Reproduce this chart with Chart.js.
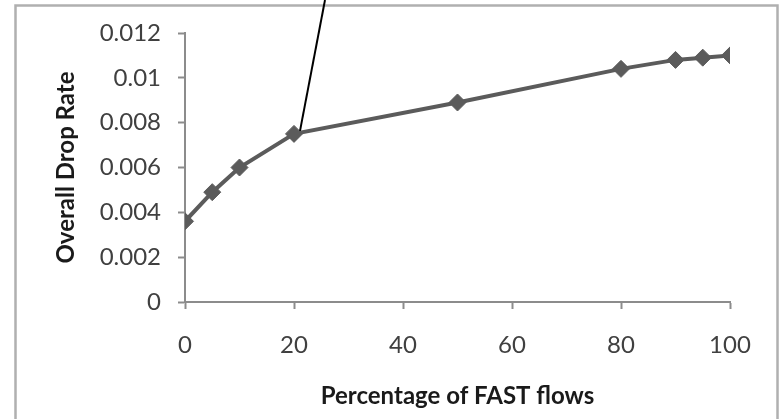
<!DOCTYPE html>
<html>
<head>
<meta charset="utf-8">
<title>Overall Drop Rate</title>
<script src="https://cdn.jsdelivr.net/npm/chart.js@4/dist/chart.umd.min.js"></script>
<style>
  html, body { margin: 0; padding: 0; background: #fff; }
  #wrap { position: relative; width: 781px; height: 419px; }
</style>
</head>
<body>
<div id="wrap"><canvas id="dropChart" width="781" height="419"></canvas></div>
<script>
// percentage of FAST flows vs. overall drop rate
var fastPercent = [0, 5, 10, 20, 50, 80, 90, 95, 100];
var dropRate = [0.0036, 0.0049, 0.0060, 0.0075, 0.0089, 0.0104, 0.0108, 0.0109, 0.0110];
var xTicks = [0, 20, 40, 60, 80, 100];
var yTicks = [0, 0.002, 0.004, 0.006, 0.008, 0.01, 0.012];

var axisGray = '#8c8c8c';
var seriesGray = '#5b5b5b';
var fontFamily = 'Lato, "Open Sans", sans-serif';

var points = [];
for (var i = 0; i < fastPercent.length; i++) {
    points.push({x: fastPercent[i], y: dropRate[i]});
}

// outer chart frame, drawn before anything else
var framePlugin = {
    id: 'frame',
    beforeDraw: function(chart) {
        var ctx = chart.ctx;
        ctx.save();
        ctx.strokeStyle = '#b0b0b0';
        ctx.lineWidth = 2.5;
        ctx.strokeRect(15.5, 5.5, 762, 500);
        ctx.restore();
    }
};

// callout line leaving the 20% point towards the top edge
var calloutPlugin = {
    id: 'callout',
    afterDraw: function(chart) {
        var xs = chart.scales.x, ys = chart.scales.y;
        var px = xs.getPixelForValue(20), py = ys.getPixelForValue(dropRate[3]);
        var ctx = chart.ctx;
        ctx.save();
        ctx.strokeStyle = '#000';
        ctx.lineWidth = 2;
        ctx.beginPath();
        ctx.moveTo(px + 6, py - 3);
        ctx.lineTo(px + 31, 0);
        ctx.stroke();
        ctx.restore();
    }
};

new Chart(document.getElementById('dropChart'), {
    type: 'line',
    data: {
        datasets: [{
            data: points,
            borderColor: seriesGray,
            borderWidth: 4,
            backgroundColor: seriesGray,
            pointStyle: 'rectRot',
            pointRadius: 8.5,
            pointBorderWidth: 1,
            pointBorderColor: seriesGray,
            pointBackgroundColor: seriesGray,
            tension: 0,
            fill: false
        }]
    },
    options: {
        responsive: false,
        animation: false,
        events: [],
        layout: { padding: { top: 33, right: 51, left: 0, bottom: 0 } },
        plugins: { legend: { display: false }, tooltip: { enabled: false } },
        scales: {
            x: {
                type: 'linear',
                min: 0,
                max: 100,
                afterBuildTicks: function(scale) {
                    scale.ticks = xTicks.map(function(v) { return {value: v}; });
                },
                afterFit: function(scale) { scale.height = 117; },
                grid: { drawOnChartArea: false, drawTicks: true, tickLength: 7, tickColor: axisGray, tickWidth: 2 },
                border: { display: true, color: axisGray, width: 2 },
                ticks: {
                    color: '#404040',
                    padding: 22,
                    maxRotation: 0,
                    font: { family: fontFamily, size: 24 }
                },
                title: {
                    display: true,
                    text: 'Percentage of FAST flows',
                    color: '#1a1a1a',
                    padding: { top: 0, bottom: 8 },
                    font: { family: fontFamily, size: 24, weight: 'bold' }
                }
            },
            y: {
                min: 0,
                max: 0.012,
                afterBuildTicks: function(scale) {
                    scale.ticks = yTicks.map(function(v) { return {value: v}; });
                },
                afterFit: function(scale) { scale.width = 185; },
                grid: { drawOnChartArea: false, drawTicks: true, tickLength: 7, tickColor: axisGray, tickWidth: 2 },
                border: { display: true, color: axisGray, width: 2 },
                ticks: {
                    color: '#404040',
                    padding: 17,
                    font: { family: fontFamily, size: 24 },
                    callback: function(v) { return String(+v.toFixed(3)); }
                },
                title: {
                    display: true,
                    text: 'Overall Drop Rate',
                    color: '#1a1a1a',
                    padding: { top: 52, bottom: 0 },
                    font: { family: fontFamily, size: 24, weight: 'bold' }
                }
            }
        }
    },
    plugins: [framePlugin, calloutPlugin]
});
</script>
</body>
</html>
